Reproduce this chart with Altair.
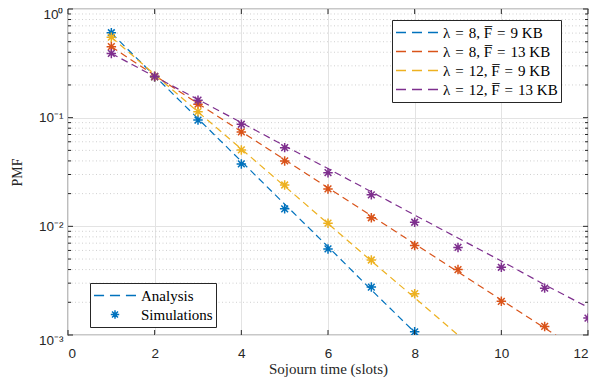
import altair as alt
import pandas as pd

# ---------------- data ----------------
EQ = "\u2004=\u2004"
series_names = ["λ" + EQ + "8, F̅" + EQ + "9 KB", "λ" + EQ + "8, F̅" + EQ + "13 KB",
                "λ" + EQ + "12, F̅" + EQ + "9 KB", "λ" + EQ + "12, F̅" + EQ + "13 KB"]
series_colors = ["#0072BD", "#D95319", "#EDB120", "#7E2F8E"]

x_analysis = [1, 2, 3, 4, 5, 6, 7, 8, 9, 10, 11, 12]
analysis_l8_f9 = [0.60, 0.242, 0.098, 0.0396, 0.016, 0.0065, 0.0026, 0.00106, 0.00043, 0.00017, 0.00007, 0.00003]
analysis_l8_f13 = [0.45, 0.245, 0.135, 0.0745, 0.041, 0.0226, 0.0125, 0.0069, 0.0038, 0.0021, 0.00116, 0.00064]
analysis_l12_f9 = [0.55, 0.25, 0.113, 0.0515, 0.0234, 0.0106, 0.0048, 0.0022, 0.0010, 0.00045, 0.0002, 0.00009]
analysis_l12_f13 = [0.39, 0.239, 0.147, 0.090, 0.055, 0.034, 0.0208, 0.0127, 0.0078, 0.0048, 0.0029, 0.0018]

sim_x_l8_f9 = [1, 2, 3, 4, 5, 6, 7, 8]
sim_l8_f9 = [0.605, 0.237, 0.095, 0.0375, 0.0145, 0.0062, 0.00276, 0.00107]
sim_x_l8_f13 = [1, 2, 3, 4, 5, 6, 7, 8, 9, 10, 11]
sim_l8_f13 = [0.45, 0.238, 0.133, 0.074, 0.040, 0.0221, 0.0120, 0.00665, 0.0040, 0.00204, 0.00120]
sim_x_l12_f9 = [1, 2, 3, 4, 5, 6, 7, 8]
sim_l12_f9 = [0.55, 0.24, 0.1136, 0.0505, 0.024, 0.0107, 0.0049, 0.0024]
sim_x_l12_f13 = [1, 2, 3, 4, 5, 6, 7, 8, 9, 10, 11, 12]
sim_l12_f13 = [0.39, 0.24, 0.145, 0.087, 0.053, 0.0312, 0.0195, 0.0109, 0.0064, 0.0042, 0.0027, 0.00143]

legend_kinds = ["Analysis", "Simulations"]

x_ticks = [0, 2, 4, 6, 8, 10, 12]
y_major = [1, 0.1, 0.01, 0.001]
y_minor = [m * 10.0 ** k for k in (-3, -2, -1) for m in range(2, 10)]

# ---------------- tables ----------------
ana_rows = []
for name, vals in zip(series_names, [analysis_l8_f9, analysis_l8_f13, analysis_l12_f9, analysis_l12_f13]):
    for xv, yv in zip(x_analysis, vals):
        ana_rows.append({"t": xv, "p": yv, "series": name})
ana_df = pd.DataFrame(ana_rows)

sim_rows = []
for name, xs, vals in zip(series_names,
                          [sim_x_l8_f9, sim_x_l8_f13, sim_x_l12_f9, sim_x_l12_f13],
                          [sim_l8_f9, sim_l8_f13, sim_l12_f9, sim_l12_f13]):
    for xv, yv in zip(xs, vals):
        sim_rows.append({"t": xv, "p": yv, "series": name})
sim_df = pd.DataFrame(sim_rows)

dummy_df = pd.DataFrame({"t": [-1, -1], "p": [0.5, 0.5], "kind": legend_kinds})
minor_df = pd.DataFrame({"p": y_minor})
major_df = pd.DataFrame({"p": y_major})
xt_df = pd.DataFrame({"t": x_ticks})

W, H = 520, 326
AX = "#262626"
SERIF = "Liberation Serif"
SANS = "Liberation Sans"

dash_path = "M-1,0L-0.52,0M-0.24,0L0.24,0M0.52,0L1,0"
star_small = ("M-0.2,0L0.2,0M0,-0.2L0,0.2M-0.142,-0.142L0.142,0.142M-0.142,0.142L0.142,-0.142")
star_big = "M-1,0L1,0M0,-1L0,1M-0.71,-0.71L0.71,0.71M-0.71,0.71L0.71,-0.71"

xscale = alt.Scale(domain=[0, 12], nice=False, zero=False)
yscale = alt.Scale(type="log", domain=[0.001, 1], nice=False)

label_expr = ("datum.value > 0.5 ? '10⁰' : datum.value > 0.05 ? '10⁻¹' : "
              "datum.value > 0.005 ? '10⁻²' : '10⁻³'")

X = alt.X("t:Q", scale=xscale,
          axis=alt.Axis(values=x_ticks, grid=True, gridColor="#e3e3e3", tickSize=0, domain=False,
                        labelFont=SANS, labelFontSize=13.5, labelColor=AX, labelPadding=11,
                        title="Sojourn time (slots)", titleFont=SERIF, titleFontSize=15,
                        titleFontWeight="normal", titleColor=AX, titlePadding=2))
Y = alt.Y("p:Q", scale=yscale,
          axis=alt.Axis(values=y_major, grid=True, gridColor="#e3e3e3", tickSize=0, domain=False,
                        labelExpr=label_expr, labelFont=SANS, labelFontSize=13.5, labelColor=AX,
                        labelPadding=5, title="PMF", titleFont=SERIF, titleFontSize=14,
                        titleFontWeight="normal", titleColor=AX, titlePadding=14,
                        labelOffset={"condition": {"test": "datum.value > 0.5 || datum.value < 0.002",
                                                   "value": 5}, "value": 0}))

minor_grid = alt.Chart(minor_df).mark_rule(color="#c4c4c4", strokeWidth=0.8, strokeDash=[1, 2.5]).encode(
    y=alt.Y("p:Q", scale=yscale), x=alt.value(0), x2=alt.value(W))

lines = alt.Chart(ana_df).mark_line(strokeDash=[7, 4.5], strokeWidth=1.2, clip=True).encode(
    x=X, y=Y,
    color=alt.Color("series:N", scale=alt.Scale(domain=series_names, range=series_colors),
                    legend=alt.Legend(orient="none", legendX=324, legendY=11, title=None,
                                      symbolType="stroke", symbolDash=[10, 6], symbolSize=1764,
                                      symbolStrokeWidth=1.5, symbolOpacity=1,
                                      clipHeight=19, rowPadding=0,
                                      labelFont=SERIF, labelFontSize=15, labelColor="#000000",
                                      labelOffset=4, fillColor="#ffffff", strokeColor=AX,
                                      padding=3, labelLimit=300)),
    detail="series:N")

points = alt.Chart(sim_df).mark_point(shape=star_big, size=90, filled=False, strokeWidth=1.5,
                                      opacity=1, clip=True).encode(
    x=alt.X("t:Q", scale=xscale), y=alt.Y("p:Q", scale=yscale),
    color=alt.Color("series:N", scale=alt.Scale(domain=series_names, range=series_colors), legend=None))

dummy = alt.Chart(dummy_df).mark_point(filled=False, color="#0072BD", clip=True).encode(
    x=alt.X("t:Q", scale=xscale), y=alt.Y("p:Q", scale=yscale),
    shape=alt.Shape("kind:N", scale=alt.Scale(domain=legend_kinds, range=[dash_path, star_small]),
                    legend=alt.Legend(orient="none", legendX=22, legendY=274, title=None,
                                      symbolSize=1764, symbolStrokeColor="#0072BD",
                                      symbolStrokeWidth=1.5, symbolOpacity=1,
                                      symbolFillColor="transparent",
                                      clipHeight=19, rowPadding=0,
                                      labelFont=SERIF, labelFontSize=15, labelColor="#000000",
                                      labelOffset=4, fillColor="#ffffff", strokeColor=AX,
                                      padding=3)))

tick_major_l = alt.Chart(major_df).mark_rule(color=AX, strokeWidth=1).encode(
    y=alt.Y("p:Q", scale=yscale), x=alt.value(0), x2=alt.value(5))
tick_major_r = alt.Chart(major_df).mark_rule(color=AX, strokeWidth=1).encode(
    y=alt.Y("p:Q", scale=yscale), x=alt.value(W - 5), x2=alt.value(W))
tick_minor_l = alt.Chart(minor_df).mark_rule(color=AX, strokeWidth=1).encode(
    y=alt.Y("p:Q", scale=yscale), x=alt.value(0), x2=alt.value(3))
tick_minor_r = alt.Chart(minor_df).mark_rule(color=AX, strokeWidth=1).encode(
    y=alt.Y("p:Q", scale=yscale), x=alt.value(W - 3), x2=alt.value(W))
tick_x_b = alt.Chart(xt_df).mark_rule(color=AX, strokeWidth=1).encode(
    x=alt.X("t:Q", scale=xscale), y=alt.value(H - 5), y2=alt.value(H))
tick_x_t = alt.Chart(xt_df).mark_rule(color=AX, strokeWidth=1).encode(
    x=alt.X("t:Q", scale=xscale), y=alt.value(0), y2=alt.value(5))

chart = alt.layer(
    minor_grid, lines, points, dummy,
    tick_major_l, tick_major_r, tick_minor_l, tick_minor_r, tick_x_b, tick_x_t
).resolve_scale(color="shared").properties(
    width=W, height=H,
    autosize=alt.AutoSizeParams(type="none"),
    padding={"left": 60, "top": 1, "right": 13, "bottom": 44},
    background="#ffffff"
).configure_view(stroke=AX, strokeWidth=1.2)

chart.save("out.html", embed_options={"renderer": "svg", "actions": False})
